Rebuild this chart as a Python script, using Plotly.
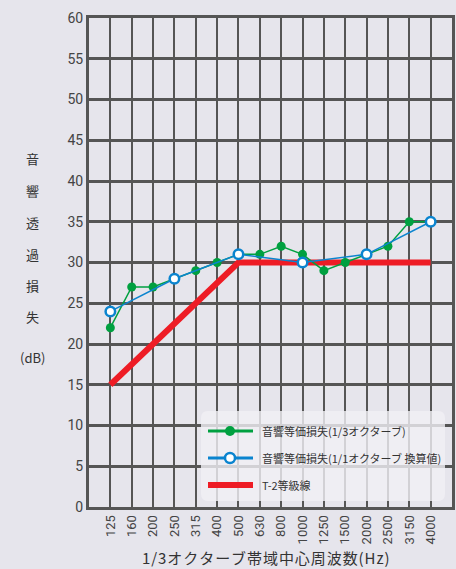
import plotly.graph_objects as go

categories = ["125", "160", "200", "250", "315", "400", "500", "630", "800",
              "1000", "1250", "1500", "2000", "2500", "3150", "4000"]
green_vals = [22, 27, 27, 28, 29, 30, 31, 31, 32, 31, 29, 30, 31, 32, 35, 35]
blue_cats = ["125", "250", "500", "1000", "2000", "4000"]
blue_vals = [24, 28, 31, 30, 31, 35]
red_cats = ["125", "500", "4000"]
red_vals = [15, 30, 30]
y_ticks = list(range(0, 61, 5))
legend_labels = ["音響等価損失(1/3オクターブ)", "音響等価損失(1/1オクターブ 換算値)", "T-2等級線"]
ytitle_chars = ["音", "響", "透", "過", "損", "失", "(dB)"]
xtitle = "1/3オクターブ帯域中心周波数(Hz)"

GREEN = "#00a040"
BLUE = "#0a84cf"
RED = "#ee1c25"
BG = "#e6e5ec"
GRID = "#555555"

W, H = 456, 569
L, R, T, B = 89, 4, 18, 62
PW, PH = W - L - R, H - T - B


def px_x(p):
    return (p - L) / PW


def px_y(p):
    return (H - B - p) / PH


idx = {c: i for i, c in enumerate(categories)}

fig = go.Figure()
fig.add_trace(go.Scatter(x=[idx[c] for c in red_cats], y=red_vals, mode="lines",
                         line=dict(color=RED, width=6), showlegend=False))
fig.add_trace(go.Scatter(x=list(range(len(categories))), y=green_vals, mode="lines+markers",
                         line=dict(color=GREEN, width=1.5),
                         marker=dict(color=GREEN, size=9), showlegend=False))
fig.add_trace(go.Scatter(x=[idx[c] for c in blue_cats], y=blue_vals, mode="lines+markers",
                         line=dict(color=BLUE, width=1.5),
                         marker=dict(color="white", size=9.5, line=dict(color=BLUE, width=2.5)),
                         showlegend=False))

# manual legend (paper = plot area fractions)
bx0, bx1, by0, by1 = px_x(201), px_x(445), px_y(501), px_y(411)
rx, ry = 7 / PW, 7 / PH
path = (f"M {bx0+rx} {by0} L {bx1-rx} {by0} Q {bx1} {by0} {bx1} {by0+ry} "
        f"L {bx1} {by1-ry} Q {bx1} {by1} {bx1-rx} {by1} L {bx0+rx} {by1} "
        f"Q {bx0} {by1} {bx0} {by1-ry} L {bx0} {by0+ry} Q {bx0} {by0} {bx0+rx} {by0} Z")
fig.add_shape(type="path", xref="paper", yref="paper", path=path,
              fillcolor="#f1f0f5", opacity=0.8, line=dict(width=0), layer="above")

lx0, lx1, lxm, ltx = px_x(208), px_x(253), px_x(230), px_x(260)
ly = [px_y(431), px_y(458), px_y(485)]
fig.add_shape(type="line", xref="paper", yref="paper", x0=lx0, x1=lx1, y0=ly[0], y1=ly[0],
              line=dict(color=GREEN, width=3), layer="above")
fig.add_shape(type="circle", xref="paper", yref="paper", xsizemode="pixel", ysizemode="pixel",
              xanchor=lxm, yanchor=ly[0], x0=-5, x1=5, y0=-5, y1=5,
              fillcolor=GREEN, line=dict(width=0), layer="above")
fig.add_shape(type="line", xref="paper", yref="paper", x0=lx0, x1=lx1, y0=ly[1], y1=ly[1],
              line=dict(color=BLUE, width=3), layer="above")
fig.add_shape(type="circle", xref="paper", yref="paper", xsizemode="pixel", ysizemode="pixel",
              xanchor=lxm, yanchor=ly[1], x0=-5, x1=5, y0=-5, y1=5,
              fillcolor="white", line=dict(color=BLUE, width=2.5), layer="above")
fig.add_shape(type="line", xref="paper", yref="paper", x0=lx0, x1=lx1, y0=ly[2], y1=ly[2],
              line=dict(color=RED, width=6), layer="above")
for lab, yy in zip(legend_labels, ly):
    fig.add_annotation(x=ltx, y=yy, xref="paper", yref="paper", text=lab, showarrow=False,
                       xanchor="left", yanchor="middle",
                       font=dict(family="Noto Sans CJK JP", size=11, color="#333333"))

# y-axis title, vertical characters
ys_px = [158, 190, 222, 254, 285, 316, 357]
for ch, yp in zip(ytitle_chars, ys_px):
    fig.add_annotation(x=px_x(32), y=px_y(yp), xref="paper", yref="paper",
                       yanchor="middle", xanchor="center", text=ch, showarrow=False,
                       font=dict(family="Noto Sans CJK JP", size=13, color="#333333"))

fig.add_annotation(x=px_x(266), y=px_y(557), xref="paper", yref="paper", yanchor="middle",
                   xanchor="center", text="\u200a".join(xtitle), showarrow=False,
                   font=dict(family="Noto Sans CJK JP", size=15, color="#333333"))

fig.update_layout(
    width=W, height=H, autosize=False,
    margin=dict(l=L, r=R, t=T, b=B),
    paper_bgcolor=BG, plot_bgcolor=BG,
    xaxis=dict(range=[-1, 16], tickmode="array", tickvals=list(range(len(categories))),
               ticktext=categories, tickangle=-90, showgrid=True, gridcolor=GRID, gridwidth=1.5,
               zeroline=False, showline=True, linecolor=GRID, linewidth=3, mirror=True,
               ticks="", automargin=False,
               tickfont=dict(family="Roboto", size=13, color="#444444")),
    yaxis=dict(range=[0, 60], tickmode="array", tickvals=y_ticks, showgrid=True,
               gridcolor=GRID, gridwidth=2.5, zeroline=False, showline=True, linecolor=GRID,
               linewidth=3, mirror=True, ticks="", automargin=False,
               tickfont=dict(family="Roboto", size=14, color="#444444")),
    showlegend=False,
)

fig.write_html("out.html", config={"responsive": False, "displayModeBar": False},
               post_script="document.body.style.margin='0';document.body.style.padding='0';"
                           "document.body.style.overflow='hidden';"
                           "document.documentElement.style.overflow='hidden';"
                           "document.body.style.background='#e6e5ec';")
